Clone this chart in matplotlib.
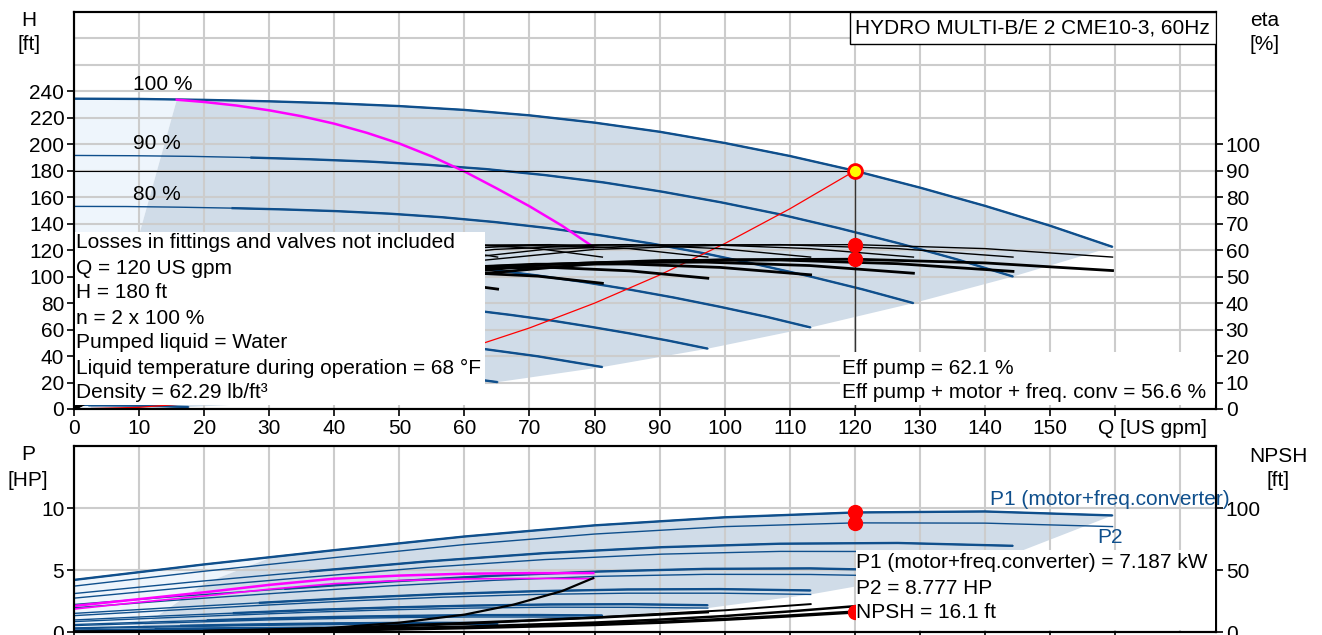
import numpy as np
import matplotlib
matplotlib.use('Agg')
from matplotlib import pyplot as plt
from matplotlib.patches import Rectangle, Polygon

plt.rcParams['font.family'] = ['Liberation Sans', 'DejaVu Sans']
plt.rcParams['font.size'] = 15

W, H = 1322, 635
BLUE = '#0f4f8c'
DARK_FILL = '#d0dce8'
PALE_FILL = '#eef5fc'
GRID = '#cccccc'

# head curves 100 % .. 10 %  (Q [US gpm], H [ft])
head_q = [
    [0, 10, 20, 30, 40, 50, 60, 70, 80, 90, 100, 110, 120, 130, 140, 150, 159.6],
    [0, 9.0, 18.1, 27.1, 36.2, 45.2, 54.2, 63.3, 72.3, 81.4, 90.4, 99.4, 108.5, 117.5, 126.6, 135.6, 144.3],
    [0, 8.1, 16.2, 24.2, 32.3, 40.4, 48.5, 56.6, 64.6, 72.7, 80.8, 88.9, 97.0, 105.0, 113.1, 121.2, 129.0],
    [0, 7.1, 14.2, 21.3, 28.4, 35.5, 42.5, 49.6, 56.7, 63.8, 70.9, 78.0, 85.1, 92.2, 99.3, 106.4, 113.2],
    [0, 6.1, 12.2, 18.3, 24.4, 30.5, 36.6, 42.7, 48.8, 54.9, 61.0, 67.1, 73.2, 79.3, 85.4, 91.5, 97.4],
    [0, 10.2, 20.4, 30.5, 40.7, 50.9, 61.1, 71.3, 81.2],
    [0, 8.2, 16.3, 24.5, 32.6, 40.8, 49.0, 57.1, 65.1],
    [0, 6.2, 12.4, 18.6, 24.8, 31.0, 37.2, 43.4, 49.5],
    [0, 4.2, 8.4, 12.6, 16.8, 21.0, 25.2, 29.4, 33.5],
    [0, 2.2, 4.4, 6.6, 8.8, 11.0, 13.2, 15.4, 17.6],
]
head_h = [
    [234.5, 234.3, 233.6, 232.5, 231.0, 228.9, 226.0, 221.9, 216.4, 209.5, 201.0, 191.2, 180.0, 167.3, 153.5, 138.5, 122.5],
    [191.6, 191.4, 190.9, 190.0, 188.7, 187.0, 184.6, 181.3, 176.8, 171.2, 164.2, 156.2, 147.1, 136.7, 125.4, 113.2, 100.1],
    [153.1, 153.0, 152.5, 151.8, 150.8, 149.5, 147.6, 144.9, 141.3, 136.8, 131.3, 124.9, 117.5, 109.2, 100.2, 90.4, 80.0],
    [118.0, 117.9, 117.5, 116.9, 116.2, 115.1, 113.7, 111.6, 108.8, 105.4, 101.1, 96.2, 90.5, 84.2, 77.2, 69.7, 61.6],
    [87.2, 87.2, 86.9, 86.5, 85.9, 85.2, 84.1, 82.5, 80.5, 77.9, 74.8, 71.1, 67.0, 62.2, 57.1, 51.5, 45.6],
    [60.7, 60.5, 59.8, 58.5, 56.0, 52.1, 46.6, 39.8, 31.7],
    [38.9, 38.8, 38.3, 37.5, 35.9, 33.4, 29.9, 25.5, 20.3],
    [22.5, 22.4, 22.2, 21.7, 20.8, 19.3, 17.3, 14.7, 11.8],
    [10.3, 10.3, 10.2, 10.0, 9.5, 8.9, 7.9, 6.7, 5.4],
    [2.8, 2.8, 2.8, 2.7, 2.6, 2.4, 2.2, 1.8, 1.5],
]
head_thick_from = [0, 3, 3, 3, 3, 2, 2, 2, 1, 1]

# power / efficiency grid per speed
speed_q = [
    [0, 20, 40, 60, 80, 100, 120, 140, 159.6],
    [0, 18.1, 36.2, 54.2, 72.3, 90.4, 108.5, 126.6, 144.3],
    [0, 16.2, 32.3, 48.5, 64.6, 80.8, 97.0, 113.1, 129.0],
    [0, 14.2, 28.4, 42.5, 56.7, 70.9, 85.1, 99.3, 113.2],
    [0, 12.2, 24.4, 36.6, 48.8, 61.0, 73.2, 85.4, 97.4],
    [0, 10.2, 20.4, 30.5, 40.7, 50.9, 61.1, 71.3, 81.2],
    [0, 8.2, 16.3, 24.5, 32.6, 40.8, 49.0, 57.1, 65.1],
    [0, 6.2, 12.4, 18.6, 24.8, 31.0, 37.2, 43.4, 49.5],
    [0, 4.2, 8.4, 12.6, 16.8, 21.0, 25.2, 29.4, 33.5],
    [0, 2.2, 4.4, 6.6, 8.8, 11.0, 13.2, 15.4, 17.6],
]
# P1 (motor+freq.converter) and P2 [HP]
speed_p1 = [
    [4.2, 5.45, 6.6, 7.7, 8.6, 9.25, 9.64, 9.72, 9.4],
    [3.1, 4.03, 4.88, 5.69, 6.36, 6.84, 7.12, 7.18, 6.95],
    [2.22, 2.88, 3.48, 4.07, 4.54, 4.88, 5.09, 5.13, 4.96],
    [1.5, 1.94, 2.35, 2.74, 3.06, 3.29, 3.43, 3.46, 3.35],
    [0.97, 1.26, 1.52, 1.78, 1.98, 2.13, 2.22, 2.24, 2.16],
    [0.6, 0.78, 0.94, 1.1, 1.22, 1.3, 1.36, 1.37, 1.33],
    [0.33, 0.42, 0.5, 0.58, 0.65, 0.7, 0.73, 0.74, 0.72],
    [0.16, 0.2, 0.24, 0.28, 0.31, 0.33, 0.35, 0.35, 0.34],
    [0.08, 0.1, 0.12, 0.13, 0.14, 0.15, 0.16, 0.16, 0.16],
    [0.03, 0.03, 0.04, 0.04, 0.04, 0.05, 0.05, 0.05, 0.05],
]
speed_p2 = [
    [3.7, 4.9, 6.0, 7.05, 7.9, 8.5, 8.8, 8.78, 8.5],
    [2.73, 3.62, 4.43, 5.21, 5.84, 6.28, 6.5, 6.49, 6.28],
    [1.95, 2.59, 3.17, 3.72, 4.17, 4.49, 4.65, 4.64, 4.49],
    [1.32, 1.74, 2.14, 2.51, 2.81, 3.03, 3.13, 3.13, 3.03],
    [0.84, 1.11, 1.36, 1.6, 1.79, 1.93, 2.0, 1.99, 1.93],
    [0.52, 0.68, 0.83, 0.98, 1.09, 1.17, 1.21, 1.21, 1.17],
    [0.27, 0.35, 0.43, 0.5, 0.56, 0.6, 0.62, 0.62, 0.6],
    [0.12, 0.16, 0.2, 0.23, 0.26, 0.28, 0.29, 0.29, 0.28],
    [0.05, 0.06, 0.07, 0.08, 0.09, 0.1, 0.1, 0.1, 0.1],
    [0.01, 0.01, 0.01, 0.02, 0.02, 0.02, 0.02, 0.02, 0.02],
]
power_thick_from = [0, 2, 2, 2, 2, 2, 2, 2, 1, 1]

# efficiency [%], pump (same shape at every speed) and pump+motor+conv
eta_pump = [0, 27, 45, 55.5, 60.3, 61.9, 62.1, 60.6, 57.4]
eta_total = [
    [0, 24.6, 41.0, 50.6, 54.9, 56.4, 56.6, 55.2, 52.3],
    [0, 24.5, 40.8, 50.3, 54.6, 56.1, 56.3, 54.9, 52.0],
    [0, 24.1, 40.2, 49.6, 53.9, 55.3, 55.5, 54.2, 51.3],
    [0, 23.8, 39.7, 49.0, 53.2, 54.7, 54.8, 53.5, 50.7],
    [0, 23.2, 38.7, 47.8, 51.9, 53.3, 53.5, 52.2, 49.4],
    [0, 22.4, 37.3, 46.0, 49.9, 51.3, 51.4, 50.2, 47.5],
    [0, 21.3, 35.6, 43.8, 47.6, 48.9, 49.1, 47.9, 45.3],
]
eta_lim_q = [63, 70, 79.8]
eta_lim = [61.8, 61.7, 61.0]

# max power limit curve
lim_q = [15.8, 20, 25, 30, 35, 40, 45, 50, 55, 60, 65, 70, 75, 79.8]
lim_h = [233.7, 232.0, 229.3, 225.7, 221.2, 215.6, 208.7, 200.6, 190.8, 179.5, 166.6, 153.2, 138.5, 122.5]
lim_pq = [0, 10, 20, 30, 40, 50, 60, 70, 79.8]
lim_p1 = [2.1, 2.65, 3.2, 3.8, 4.3, 4.55, 4.7, 4.75, 4.75]
lim_p2 = [1.85, 2.4, 2.9, 3.45, 3.9, 4.15, 4.28, 4.32, 4.3]

# system curve through duty point
sys_q = [0, 10, 20, 30, 40, 50, 60, 70, 80, 90, 100, 110, 120]
sys_h = [0, 1.25, 5, 11.25, 20, 31.25, 45, 61.25, 80, 101.25, 125, 151.25, 180]

# left border of the operating range
top_left_q = [15.8, 10.2, 5.4, 2.5]
top_left_h = [233.7, 135, 50, 0]
bot_left_q = [30.5, 20.4, 12.0, 9.0]
bot_left_p = [6.05, 4.0, 1.0, 0.0]

# NPSH curves [ft]
npsh_q = [
    [20, 30, 40, 50, 60, 67.5, 75, 79.8],
    [20, 40, 60, 80, 100, 113.2],
    [20, 40, 60, 80, 97.4],
    [0, 20, 40, 60, 80, 90, 100, 110, 120],
    [0, 20, 40, 60, 80, 90, 100, 110, 120],
]
npsh_v = [
    [0, 1, 3.5, 7.5, 14, 22, 33, 43.5],
    [0.6, 2.8, 6.5, 11.8, 17.5, 22.5],
    [0.8, 3.2, 7.2, 11.5, 16],
    [0, 0.6, 2.0, 4.3, 7.6, 10, 12.9, 16.6, 20.8],
    [0, 0.4, 1.5, 3.4, 6, 7.8, 10.2, 13, 16.1],
]
npsh_lw = [1.6, 1.4, 1.8, 1.8, 2.4]

duty_q, duty_h = 120, 180
duty_eta = [62.1, 56.6]
duty_p = [9.64, 8.777]
duty_npsh = 16.1

info_lines = ['Losses in fittings and valves not included', 'Q = 120 US gpm',
              'H = 180 ft', 'n = 2 x 100 %', 'Pumped liquid = Water',
              'Liquid temperature during operation = 68 °F', 'Density = 62.29 lb/ft³']
eff_lines = ['Eff pump = 62.1 %', 'Eff pump + motor + freq. conv = 56.6 %']
pow_lines = ['P1 (motor+freq.converter) = 7.187 kW', 'P2 = 8.777 HP', 'NPSH = 16.1 ft']
speed_labels = ['100 %', '90 %', '80 %']
speed_label_h = [245, 201, 162]
x_ticks = list(range(0, 161, 10))
x_labels = [str(v) for v in x_ticks[:-1]] + ['']


def rect(x0, y0, x1, y1):
    return [x0 / W, 1 - y1 / H, (x1 - x0) / W, (y1 - y0) / H]


def style(ax):
    ax.set_xlim(0, 175.5)
    ax.set_xticks(x_ticks)
    ax.set_xticks([170], minor=True)
    ax.set_xticklabels(x_labels)
    ax.grid(True, which='both', color=GRID, lw=1.5)
    ax.set_axisbelow(True)
    ax.tick_params(which='major', direction='out', length=5, width=1.2, pad=2)
    ax.tick_params(which='minor', length=0)
    for s in ax.spines.values():
        s.set_linewidth(1.5)


def box(axt, x0, y0, x1, y1, edge='none'):
    axt.add_patch(Rectangle((x0 / W, 1 - y1 / H), (x1 - x0) / W, (y1 - y0) / H,
                            transform=fig.transFigure, facecolor='white',
                            edgecolor=edge, lw=1, zorder=5))


def label(axt, x, y, s, **kw):
    axt.text(x / W, 1 - y / H, s, transform=fig.transFigure, va='center',
             zorder=6, **kw)


fig = plt.figure(figsize=(W / 100, H / 100), dpi=100)

# ---------------- head / efficiency ----------------
ax = fig.add_axes(rect(74, 12, 1216, 409))
style(ax)
ax.set_ylim(0, 300)
ax.set_yticks(range(0, 241, 20))
ax.set_yticks([260, 280], minor=True)
ax.annotate('Q [US gpm]', xy=(157.3, 0), xycoords=('data', 'axes fraction'),
            xytext=(0, -7), textcoords='offset points', ha='left', va='top')

pale = list(zip([0, 0] + top_left_q, [0, head_h[0][0]] + top_left_h))
ax.add_patch(Polygon(pale, closed=True, facecolor=PALE_FILL, edgecolor='none', zorder=0.2))
dark_q = [top_left_q[0]] + head_q[0][2:] + [q[-1] for q in head_q[1:]] + top_left_q[:0:-1]
dark_h = [top_left_h[0]] + head_h[0][2:] + [h[-1] for h in head_h[1:]] + top_left_h[:0:-1]
ax.add_patch(Polygon(list(zip(dark_q, dark_h)), closed=True, facecolor=DARK_FILL,
                     edgecolor='none', zorder=0.3))

for q, h, t in zip(head_q, head_h, head_thick_from):
    ax.plot(q, h, color=BLUE, lw=1.0, zorder=2)
    ax.plot(q[t:], h[t:], color=BLUE, lw=1.7, zorder=2, solid_capstyle='butt')

ax.plot(lim_q, lim_h, color='#ff00ff', lw=1.8, zorder=2.2)
ax.plot(sys_q, sys_h, color='red', lw=0.9, zorder=2.3)
ax.plot([0, duty_q], [duty_h, duty_h], color='black', lw=0.8, zorder=2.4)
ax.plot([duty_q, duty_q], [0, duty_h], color='#333333', lw=1.0, zorder=2.4)
ax.plot([duty_q], [duty_h], 'o', ms=10, mfc='yellow', mec='red', mew=2, zorder=4)

for txt, hh in zip(speed_labels, speed_label_h):
    ax.text(9.1, hh, txt, ha='left', va='center', zorder=3)

ax2 = ax.twinx()
ax2.set_ylim(0, 150)
ax2.set_yticks(range(0, 101, 10))
ax2.tick_params(direction='out', length=5, width=1.2, pad=2)
for s in ax2.spines.values():
    s.set_linewidth(1.5)

for q, et in zip(speed_q, eta_total):
    ax2.plot(q, eta_pump, color='black', lw=1.0, zorder=2)
    ax2.plot(q, et, color='black', lw=2.0, zorder=2)
ax2.plot(eta_lim_q, eta_lim, color='black', lw=1.0, zorder=2)
ax2.plot([duty_q] * 2, duty_eta, 'o', ms=10, color='red', zorder=4)

box(ax2, 75, 232, 485, 405)
for i, txt in enumerate(info_lines):
    label(ax2, 76, 243 + 25 * i, txt)
box(ax2, 840, 352, 1215, 405)
for i, txt in enumerate(eff_lines):
    label(ax2, 842, 368 + 24 * i, txt)
box(ax2, 850, 12, 1216, 44, edge='black')
label(ax2, 855, 28, 'HYDRO MULTI-B/E 2 CME10-3, 60Hz')

# ---------------- power / NPSH ----------------
bx = fig.add_axes(rect(74, 446, 1216, 632))
style(bx)
bx.tick_params(axis='x', labelbottom=False)
bx.set_ylim(0, 15)
bx.set_yticks([0, 5, 10])
bx.set_yticks([15], minor=True)

pale = list(zip([0] + speed_q[0][:2] + bot_left_q, [0] + speed_p1[0][:2] + bot_left_p))
bx.add_patch(Polygon(pale, closed=True, facecolor=PALE_FILL, edgecolor='none', zorder=0.2))
dq = [bot_left_q[0]] + speed_q[0][2:] + [q[-1] for q in speed_q[1:]] + bot_left_q[:0:-1]
dp = [bot_left_p[0]] + speed_p1[0][2:] + [p[-1] for p in speed_p2[1:]] + bot_left_p[:0:-1]
bx.add_patch(Polygon(list(zip(dq, dp)), closed=True, facecolor=DARK_FILL,
                     edgecolor='none', zorder=0.3))

for q, p1, p2, t in zip(speed_q, speed_p1, speed_p2, power_thick_from):
    bx.plot(q, p2, color=BLUE, lw=1.0, zorder=2)
    bx.plot(q, p1, color=BLUE, lw=1.0, zorder=2)
    bx.plot(q[t:], p1[t:], color=BLUE, lw=1.7, zorder=2, solid_capstyle='butt')
bx.plot(lim_pq, lim_p2, color='#ff00ff', lw=1.2, zorder=2.2)
bx.plot(lim_pq, lim_p1, color='#ff00ff', lw=1.8, zorder=2.2)
bx.plot([duty_q] * 2, duty_p, 'o', ms=10, color='red', zorder=4)
bx.text(140.8, 10.65, 'P1 (motor+freq.converter)', color=BLUE, va='center',
        zorder=3, clip_on=False)
bx.text(157.2, 7.66, 'P2', color=BLUE, va='center', zorder=3)

bx2 = bx.twinx()
bx2.set_ylim(0, 150)
bx2.set_yticks([0, 50, 100])
bx2.tick_params(direction='out', length=5, width=1.2, pad=2)
for s in bx2.spines.values():
    s.set_linewidth(1.5)
for q, v, lw in zip(npsh_q, npsh_v, npsh_lw):
    bx2.plot(q, v, color='black', lw=lw, zorder=2)
bx2.plot([duty_q], [duty_npsh], 'o', ms=10, color='red', zorder=4)

box(bx2, 856, 550, 1215, 630)
for i, txt in enumerate(pow_lines):
    label(bx2, 856, 563 + 25 * i, txt)

# axis titles
for x, y, s in [(29, 20, 'H'), (29, 44, '[ft]'), (1265, 20, 'eta'), (1265, 44, '[%]'),
                (28, 455, 'P'), (28, 480, '[HP]'), (1278, 456, 'NPSH'), (1278, 480, '[ft]')]:
    fig.text(x / W, 1 - y / H, s, ha='center', va='center')

fig.savefig('out.png', dpi=100)
